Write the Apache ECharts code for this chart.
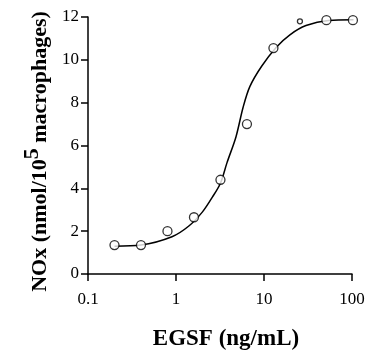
<!DOCTYPE html>
<html>
<head>
<meta charset="utf-8">
<script src="https://cdn.jsdelivr.net/npm/echarts@6/dist/echarts.min.js"></script>
<style>
  html, body { margin: 0; padding: 0; background: #fff; }
  #chart { width: 368px; height: 352px; }
</style>
</head>
<body>
<div id="chart"></div>
<script>
// measured points (EGSF dose, ng/mL vs NOx)
const doses = [0.2, 0.4, 0.8, 1.6, 3.2, 6.4, 12.8, 25.6, 51.2, 102.4];
const noxValues = [1.35, 1.35, 2.0, 2.65, 4.4, 7.0, 10.55, 11.8, 11.85, 11.85];

// fitted curve
const curveX = [0.2, 0.4, 0.9, 1.4, 2, 2.6, 3.2, 3.8, 4.8, 5.8, 6.9, 9.4, 13.9, 19.7, 30, 54, 104];
const curveY = [1.3, 1.35, 1.74, 2.24, 2.9, 3.6, 4.24, 5.2, 6.4, 7.8, 8.75, 9.7, 10.6, 11.17, 11.6, 11.84, 11.87];

const xTicks = [0.1, 1, 10, 100];

const myChart = echarts.init(document.getElementById('chart'));
const font = 'Liberation Serif';
const titleStyle = { fontFamily: font, fontWeight: 'bold', fontSize: 22, color: '#000' };

myChart.setOption({
  animation: false,
  grid: { left: 88, right: 16, top: 17, bottom: 78, outerBoundsMode: 'none' },
  xAxis: {
    type: 'log',
    logBase: 10,
    min: xTicks[0],
    max: xTicks[xTicks.length - 1],
    name: 'EGSF (ng/mL)',
    nameLocation: 'middle',
    nameGap: 54,
    nameTextStyle: { fontFamily: font, fontWeight: 'bold', fontSize: 23, color: '#000', padding: [0, 0, 0, 12] },
    axisLine: { lineStyle: { color: '#000', width: 1.5 } },
    axisTick: { length: 7, lineStyle: { color: '#000', width: 1.5 } },
    axisLabel: {
      margin: 17,
      fontFamily: font, fontSize: 17, color: '#000',
      formatter: (v) => String(+v.toPrecision(3))
    },
    splitLine: { show: false },
    minorTick: { show: false }
  },
  yAxis: {
    type: 'value',
    min: 0,
    max: 12,
    interval: 2,
    name: '{n|NOx (nmol/10}{sup|5}{n| macrophages)}',
    nameLocation: 'middle',
    nameRotate: 90,
    nameGap: 34,
    nameTextStyle: {
      ...titleStyle,
      padding: [0, 12, 0, 0],
      rich: {
        n: { ...titleStyle, lineHeight: 30, verticalAlign: 'bottom' },
        sup: { ...titleStyle, lineHeight: 16, verticalAlign: 'top' }
      }
    },
    axisLine: { show: true, lineStyle: { color: '#000', width: 1.5 } },
    axisTick: { show: true, length: 7, lineStyle: { color: '#000', width: 1.5 } },
    axisLabel: { margin: 9, fontFamily: font, fontSize: 17, color: '#000' },
    splitLine: { show: false }
  },
  series: [
    {
      type: 'line',
      data: curveX.map((x, i) => [x, curveY[i]]),
      smooth: 0.3,
      showSymbol: false,
      clip: false,
      lineStyle: { color: '#000', width: 1.5 },
      z: 2
    },
    {
      type: 'scatter',
      data: doses.map((x, i) => [x, noxValues[i]]),
      symbol: 'circle',
      symbolSize: (v, p) => (p.dataIndex === 7 ? 5 : 9),
      clip: false,
      itemStyle: { color: '#fff', borderColor: '#000', borderWidth: 1.3 },
      z: 3
    }
  ]
});
</script>
</body>
</html>
